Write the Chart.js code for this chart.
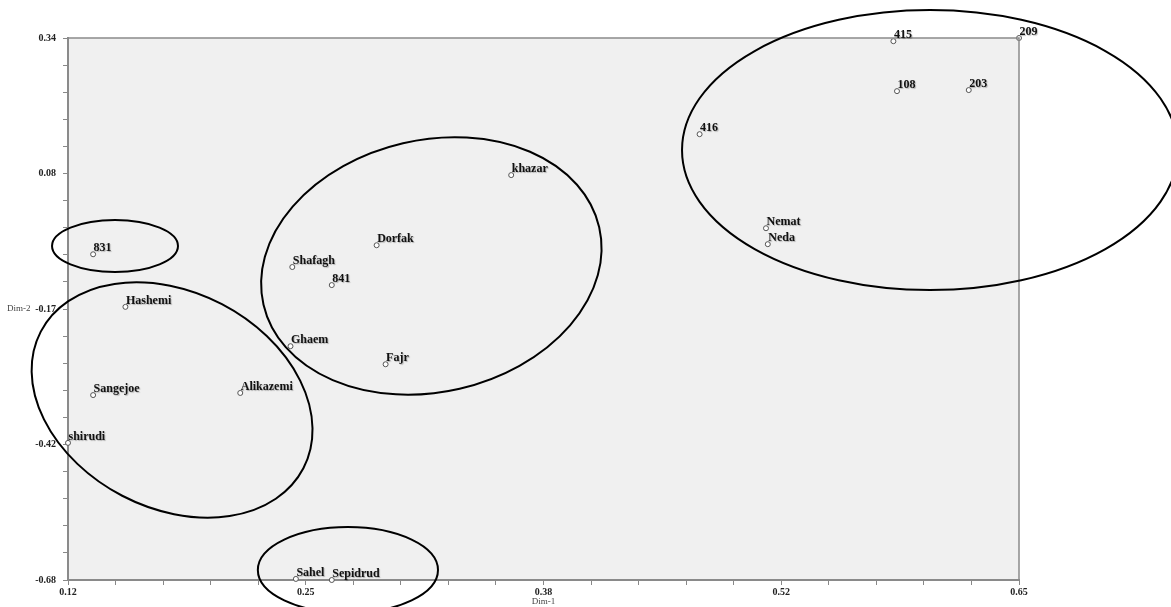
<!DOCTYPE html>
<html>
<head>
<meta charset="utf-8">
<script src="https://cdn.jsdelivr.net/npm/chart.js@4"></script>
<style>
html,body{margin:0;padding:0;background:#fff;}
#c{display:block;}
</style>
</head>
<body>
<canvas id="c" width="1171" height="607"></canvas>
<script>
// ---- data ----
const names = ['209','415','108','203','416','Nemat','Neda','khazar','Dorfak','Shafagh','841','Ghaem','Fajr','831','Hashemi','Sangejoe','Alikazemi','shirudi','Sahel','Sepidrud'];
const dim1  = [0.650,0.580,0.582,0.622,0.472,0.509,0.510,0.367,0.292,0.245,0.267,0.244,0.297,0.134,0.152,0.134,0.216,0.120,0.247,0.267];
const dim2  = [0.340,0.334,0.240,0.242,0.159,-0.018,-0.048,0.082,-0.050,-0.091,-0.125,-0.240,-0.274,-0.067,-0.166,-0.332,-0.328,-0.422,-0.678,-0.680];
const xTickLabels = ['0.12','0.25','0.38','0.52','0.65'];
const yTickLabels = ['0.34','0.08','-0.17','-0.42','-0.68'];
// cluster ellipses: centre (dim1, dim2), semi-axes in data units, rotation in degrees
const ellCx  = [0.1462, 0.178, 0.3225, 0.6004, 0.2760];
const ellCy  = [-0.0514,-0.3412,-0.0890, 0.1292,-0.6611];
const ellRx  = [0.0351, 0.0825, 0.0960, 0.1382, 0.0502];
const ellRy  = [0.0489, 0.2032, 0.2370, 0.2635, 0.0809];
const ellRot = [0, 27.5, -13, 0, 0];

const X_MIN = 0.12, X_MAX = 0.65, Y_MIN = -0.68, Y_MAX = 0.34;
const SERIF = '"Liberation Serif", "DejaVu Serif", serif';

const points = dim1.map((x, i) => ({x: x, y: dim2[i]}));

function minorTicks(scale, lo, hi) {
  const t = [];
  for (let i = 0; i <= 20; i++) t.push({value: lo + (hi - lo) * i / 20});
  scale.ticks = t;
}

const decor = {
  id: 'decor',
  beforeDraw(chart) {
    const {ctx, chartArea: a} = chart;
    ctx.save();
    ctx.fillStyle = '#f0f0f0';
    ctx.fillRect(a.left, a.top, a.right - a.left, a.bottom - a.top);
    ctx.restore();
  },
  afterDraw(chart) {
    const {ctx, chartArea: a} = chart;
    const xs = chart.scales.x, ys = chart.scales.y;
    ctx.save();
    // top and right frame
    ctx.strokeStyle = '#8a8a8a';
    ctx.lineWidth = 1.5;
    ctx.beginPath();
    ctx.moveTo(a.left, a.top);
    ctx.lineTo(a.right, a.top);
    ctx.lineTo(a.right, a.bottom);
    ctx.stroke();
    // point labels
    const meta = chart.getDatasetMeta(0);
    ctx.font = 'bold 12px ' + SERIF;
    ctx.fillStyle = '#111';
    ctx.textAlign = 'left';
    ctx.textBaseline = 'alphabetic';
    ctx.shadowColor = 'rgba(0,0,0,0.25)';
    ctx.shadowOffsetX = 1;
    ctx.shadowOffsetY = 1;
    ctx.shadowBlur = 1;
    meta.data.forEach((el, i) => {
      ctx.fillText(names[i], el.x + 0.5, el.y - 3);
    });
    ctx.shadowColor = 'rgba(0,0,0,0)';
    ctx.shadowOffsetX = 0;
    ctx.shadowOffsetY = 0;
    ctx.shadowBlur = 0;
    // ellipses
    ctx.strokeStyle = '#000';
    ctx.lineWidth = 2;
    for (let i = 0; i < ellCx.length; i++) {
      const cx = xs.getPixelForValue(ellCx[i]);
      const cy = ys.getPixelForValue(ellCy[i]);
      const rx = Math.abs(xs.getPixelForValue(ellCx[i] + ellRx[i]) - cx);
      const ry = Math.abs(ys.getPixelForValue(ellCy[i] + ellRy[i]) - cy);
      ctx.beginPath();
      ctx.ellipse(cx, cy, rx, ry, ellRot[i] * Math.PI / 180, 0, Math.PI * 2);
      ctx.stroke();
    }
    // axis titles
    ctx.font = '9px ' + SERIF;
    ctx.fillStyle = '#444';
    ctx.textBaseline = 'middle';
    ctx.textAlign = 'left';
    ctx.fillText('Dim-2', 7, ys.getPixelForValue(Y_MIN + (Y_MAX - Y_MIN) * 0.5));
    ctx.textAlign = 'center';
    ctx.fillText('Dim-1', (a.left + a.right) / 2, 602);
    ctx.restore();
  }
};

new Chart(document.getElementById('c'), {
  type: 'scatter',
  data: {
    datasets: [{
      data: points,
      pointRadius: 2.5,
      pointHoverRadius: 2.5,
      pointBorderWidth: 1,
      pointBorderColor: '#555',
      pointBackgroundColor: '#ffffff'
    }]
  },
  options: {
    responsive: false,
    animation: false,
    devicePixelRatio: 1,
    clip: false,
    layout: {padding: {top: 38, right: 152, bottom: 0, left: 0}},
    plugins: {legend: {display: false}, tooltip: {enabled: false}},
    scales: {
      x: {
        type: 'linear', min: X_MIN, max: X_MAX,
        afterBuildTicks: s => minorTicks(s, X_MIN, X_MAX),
        afterFit: s => { s.height = 27; },
        grid: {drawOnChartArea: false, drawTicks: true, tickLength: 5, color: '#888', lineWidth: 1},
        border: {display: true, color: '#8a8a8a', width: 2},
        ticks: {
          autoSkip: false, maxRotation: 0, padding: 1,
          color: '#222', font: {family: SERIF, size: 10, weight: 'bold'},
          callback: (v, i) => (i % 5 === 0 ? xTickLabels[i / 5] : '')
        }
      },
      y: {
        type: 'linear', min: Y_MIN, max: Y_MAX,
        afterBuildTicks: s => minorTicks(s, Y_MIN, Y_MAX),
        afterFit: s => { s.width = 68; },
        grid: {drawOnChartArea: false, drawTicks: true, tickLength: 5, color: '#888', lineWidth: 1},
        border: {display: true, color: '#8a8a8a', width: 2},
        ticks: {
          autoSkip: false, padding: 7,
          color: '#222', font: {family: SERIF, size: 10, weight: 'bold'},
          callback: (v, i) => (i % 5 === 0 ? yTickLabels[4 - i / 5] : '')
        }
      }
    }
  },
  plugins: [decor]
});
</script>
</body>
</html>
